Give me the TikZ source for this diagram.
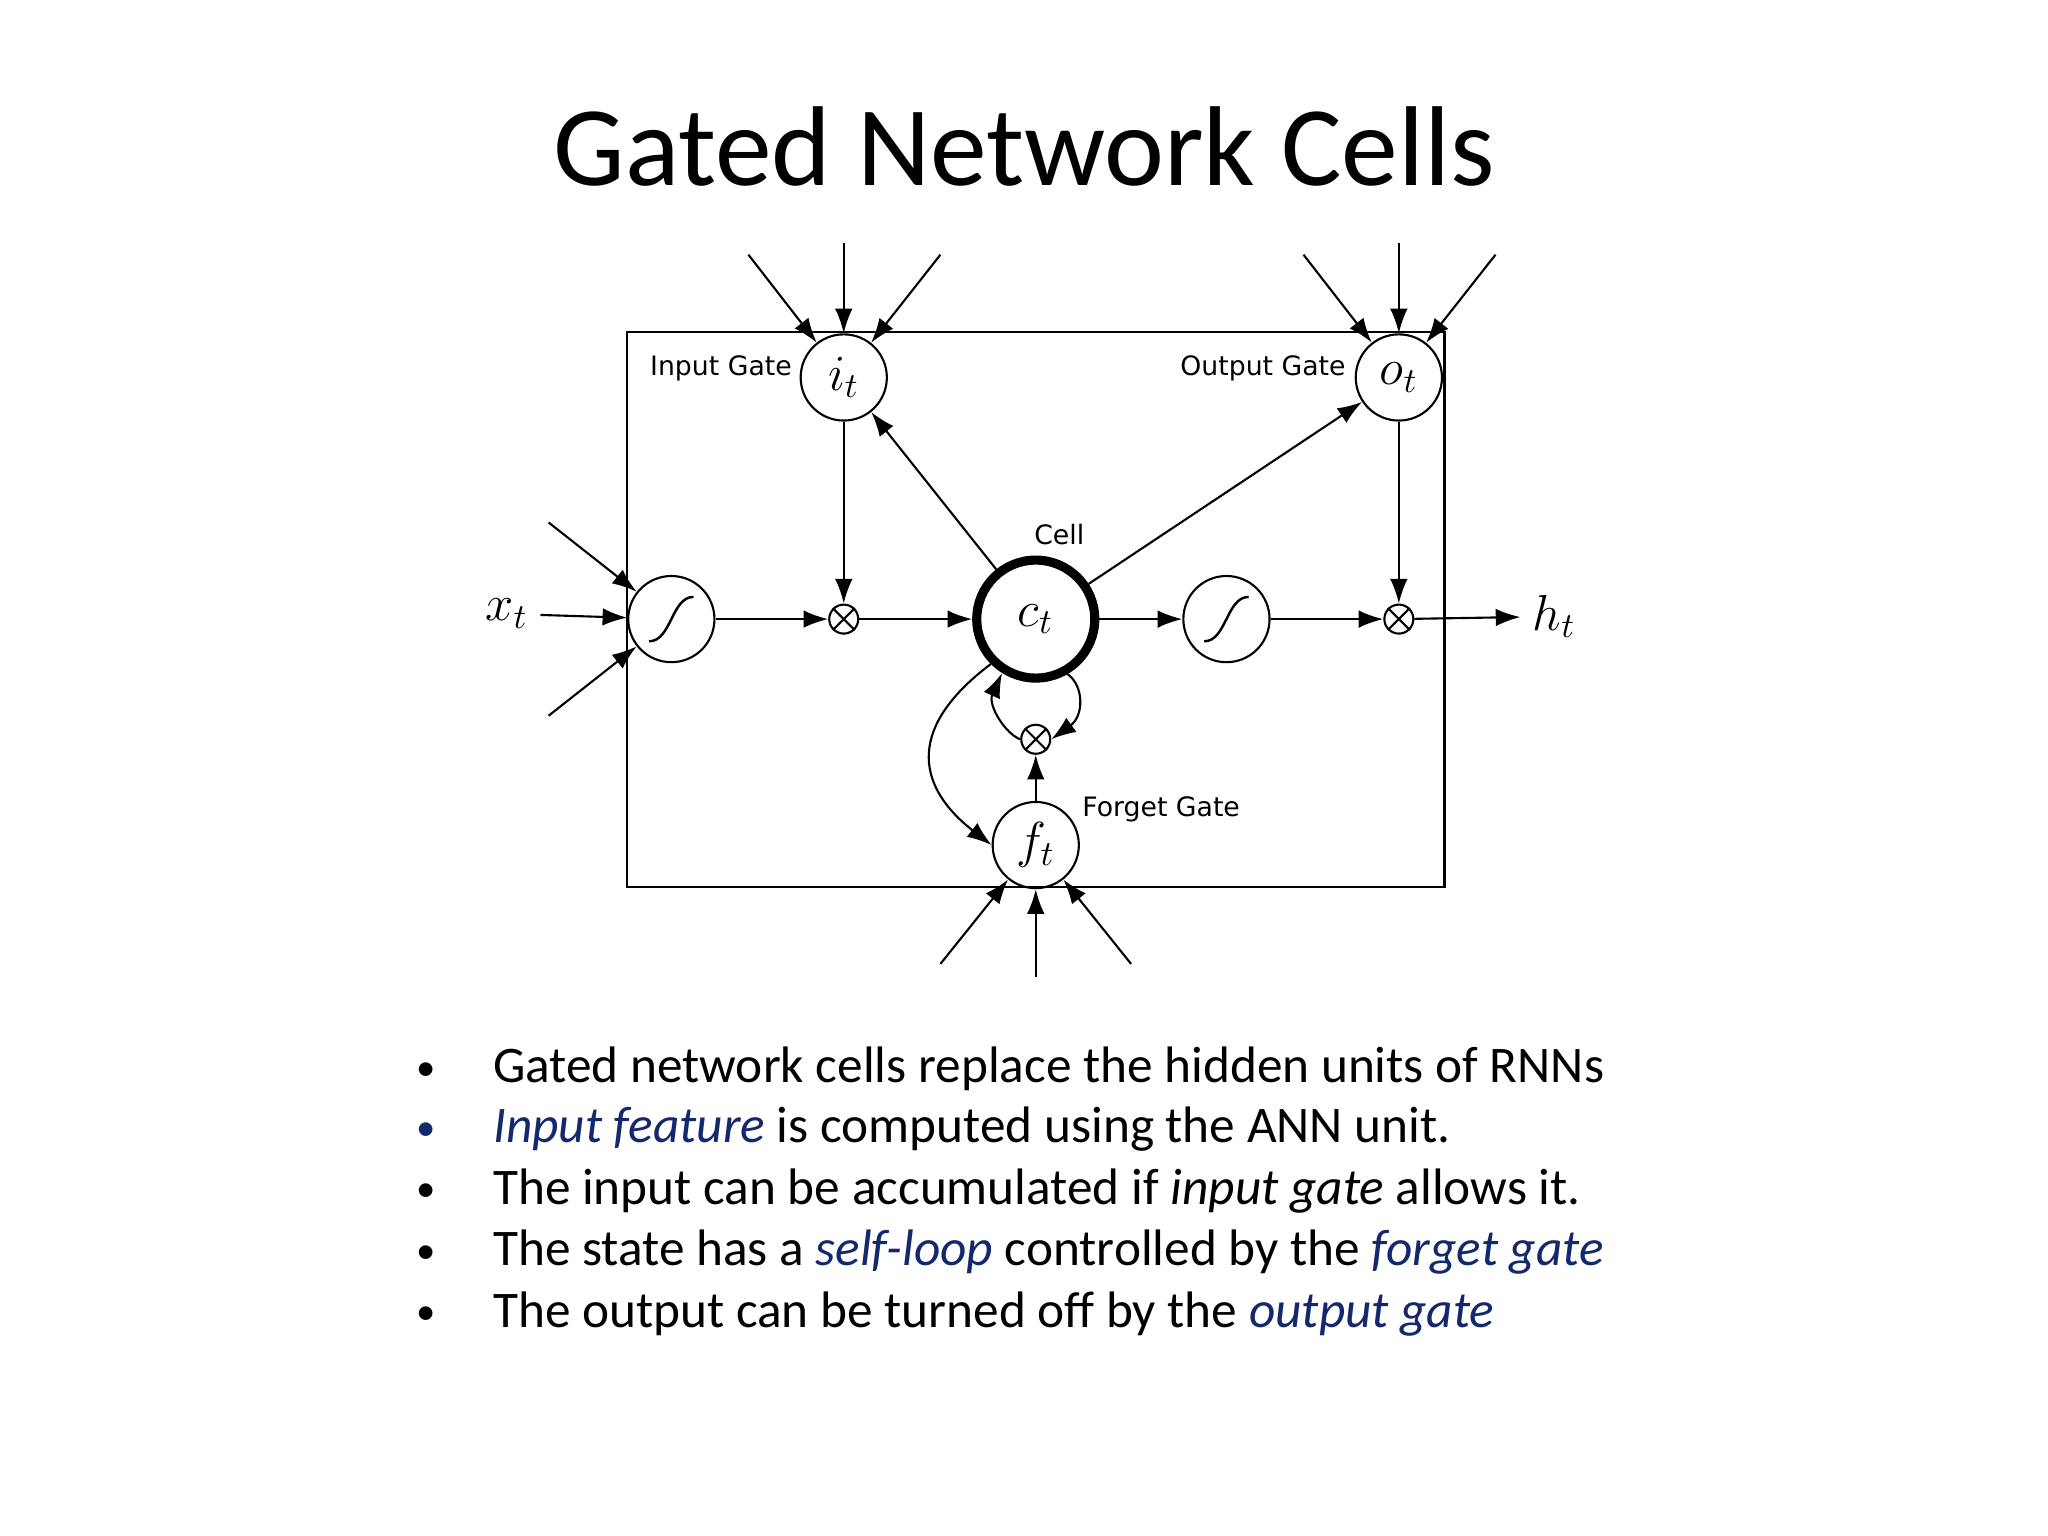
\documentclass[tikz,border=0pt]{standalone}
\usepackage{fontspec}
\setmainfont{Carlito}
\newfontfamily\lblfont{DejaVu Sans}
\usetikzlibrary{arrows.meta}
\definecolor{navy}{RGB}{20,40,110}
\begin{document}
\begin{tikzpicture}[x=0.013061cm,y=-0.013061cm,
  arr/.style={-{Latex[length=7pt,width=5pt]},line width=0.6pt},
  mul/.style={draw,circle,minimum size=0.29cm,inner sep=0pt,line width=0.6pt},
  lbl/.style={font=\lblfont\fontsize{7.6}{8}\selectfont},
  mth/.style={font=\fontsize{14}{15}\selectfont},
  btxt/.style={anchor=base west,inner sep=0pt,font=\fontsize{14.6}{16}\selectfont}]
\useasboundingbox (0,0) rectangle (1568,1176);
\node[font=\fontsize{32.3}{36}\selectfont] (title) at (784,112) {Gated Network Cells};
\draw[line width=0.7pt] (480,254) rectangle (1106,679);
\tikzset{gc/.style={draw,circle,minimum size=0.862cm,inner sep=0pt,line width=0.6pt}}
\node[gc,mth] (it) at (646,289) {$i_t$};
\node[gc,mth] (ot) at (1071,289) {$o_t$};
\node[gc] (s1) at (514,474) {};
\node[gc] (s2) at (939,474) {};
\node[gc,mth] (ft) at (793,647) {$f_t$};
\node[draw,circle,minimum size=1.18cm,inner sep=0pt,line width=2.6pt,mth] (ct) at (793,474) {$c_t$};
\node[mul] (m1) at (646,474) {};
\node[mul] (m2) at (1071,474) {};
\node[mul] (m3) at (793,566) {};
\foreach \m in {m1,m2,m3}{
 \draw[line width=0.6pt] (\m.45) -- (\m.225) (\m.135) -- (\m.315);}
\foreach \s in {s1,s2}{
 \draw[line width=0.7pt] ([shift={(-17,17)}]\s.center) .. controls ([shift={(0,17)}]\s.center) and ([shift={(0,-17)}]\s.center) .. ([shift={(17,-17)}]\s.center);}
\node[lbl] (l1) at (552,282) {Input Gate};
\node[lbl] (l2) at (967,282) {Output Gate};
\node[lbl] (l3) at (811,409) {Cell};
\node[lbl] (l4) at (889,620) {Forget Gate};
\node[mth] (xt) at (388,470) {$x_t$};
\node[mth] (ht) at (1190,472) {$h_t$};
\coordinate (a1) at (420,400); \coordinate (a2) at (420,548);
\coordinate (b1) at (646,186); \coordinate (b2) at (573,195); \coordinate (b3) at (720,195);
\coordinate (c1) at (1071,186); \coordinate (c2) at (998,195); \coordinate (c3) at (1145,195);
\coordinate (d1) at (793,748); \coordinate (d2) at (720,738); \coordinate (d3) at (866,738);
\draw[arr] (xt) -- (s1);
\draw[arr] (a1) -- (s1); \draw[arr] (a2) -- (s1);
\draw[arr] (b1) -- (it); \draw[arr] (b2) -- (it); \draw[arr] (b3) -- (it);
\draw[arr] (c1) -- (ot); \draw[arr] (c2) -- (ot); \draw[arr] (c3) -- (ot);
\draw[arr] (d1) -- (ft); \draw[arr] (d2) -- (ft); \draw[arr] (d3) -- (ft);
\draw[arr] (s1) -- (m1); \draw[arr] (it) -- (m1); \draw[arr] (m1) -- (ct);
\draw[arr] (ct) -- (s2); \draw[arr] (s2) -- (m2); \draw[arr] (ot) -- (m2);
\draw[arr] (m2) -- (ht);
\draw[arr] (ct) -- (it); \draw[arr] (ct) -- (ot);
\draw[arr] (ft) -- (m3);
\draw[arr] (m3.west) .. controls (770,562) and (756,540) .. (ct.238);
\draw[arr] (ct.300) .. controls (830,525) and (830,548) .. (m3.east);
\draw[arr] (ct.225) .. controls (690,560) and (705,605) .. (ft.west);
\foreach \y/\t [count=\i] in {818/{Gated network cells replace the hidden units of RNNs},
 864/{\textcolor{navy}{\itshape Input feature} is computed using the ANN unit.},
 911/{The input can be accumulated if \textit{input gate} allows it.},
 958/{The state has a \textcolor{navy}{\itshape self-loop} controlled by the \textcolor{navy}{\itshape forget gate}},
 1005/{The output can be turned off by the \textcolor{navy}{\itshape output gate}}}{
 \node[btxt] (t\i) at (377,\y+11) {\t};
 \node[btxt,font=\fontsize{11}{12}\selectfont] (b\i) at (318,\y+9) {\ifnum\i=2 \textcolor{navy}{•}\else •\fi};}
\end{tikzpicture}
\end{document}
